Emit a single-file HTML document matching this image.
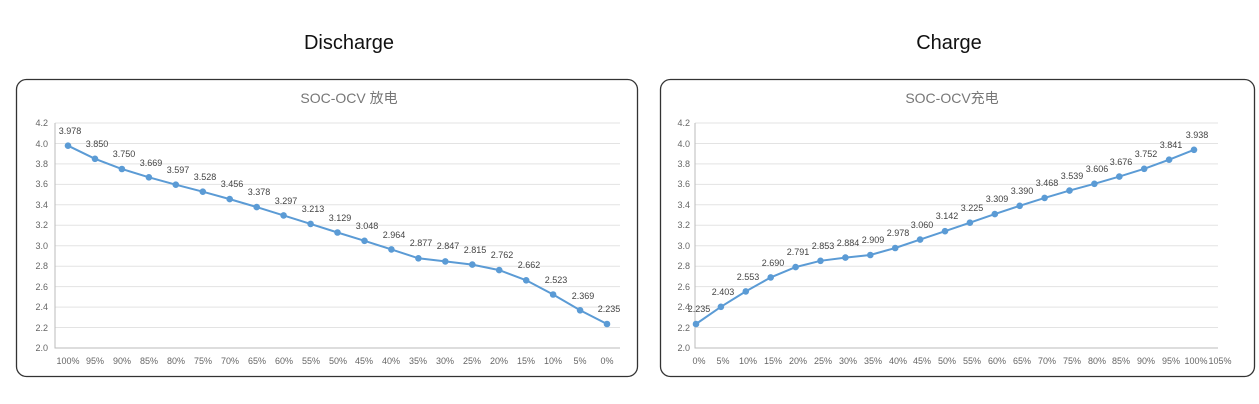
<!DOCTYPE html><html><head><meta charset="utf-8"><style>body{margin:0;background:#fff}svg{display:block}</style></head><body>
<svg width="1259" height="404" xmlns="http://www.w3.org/2000/svg" font-family="Liberation Sans, Noto Sans CJK SC, sans-serif">
<text x="349" y="49" font-size="20" text-anchor="middle" fill="#111">Discharge</text>
<text x="949" y="49" font-size="20" text-anchor="middle" fill="#111">Charge</text>
<rect x="16.5" y="79.5" width="621" height="297" rx="10" fill="#fff" stroke="#333" stroke-width="1.3"/>
<rect x="660.5" y="79.5" width="594" height="297" rx="10" fill="#fff" stroke="#333" stroke-width="1.3"/>
<text x="349" y="103" font-size="14" text-anchor="middle" fill="#777">SOC-OCV 放电</text>
<text x="952" y="103" font-size="14" text-anchor="middle" fill="#777">SOC-OCV充电</text>
<g stroke="#e3e3e3" stroke-width="1" fill="none">
<path d="M55 123H620M55 143.5H620M55 163.9H620M55 184.4H620M55 204.8H620M55 225.3H620M55 245.7H620M55 266.2H620M55 286.6H620M55 307.1H620M55 327.5H620"/>
<path d="M695 123H1218M695 143.5H1218M695 163.9H1218M695 184.4H1218M695 204.8H1218M695 225.3H1218M695 245.7H1218M695 266.2H1218M695 286.6H1218M695 307.1H1218M695 327.5H1218"/>
</g>
<g stroke="#bbb" fill="none"><path d="M55 123V348H620"/><path d="M695 123V348H1218"/></g>
<g font-size="9" fill="#666" text-anchor="end">
<text x="48" y="126">4.2</text><text x="48" y="147">4.0</text><text x="48" y="167">3.8</text><text x="48" y="187">3.6</text><text x="48" y="208">3.4</text><text x="48" y="228">3.2</text><text x="48" y="249">3.0</text><text x="48" y="269">2.8</text><text x="48" y="290">2.6</text><text x="48" y="310">2.4</text><text x="48" y="331">2.2</text><text x="48" y="351">2.0</text>
<text x="690" y="126">4.2</text><text x="690" y="147">4.0</text><text x="690" y="167">3.8</text><text x="690" y="187">3.6</text><text x="690" y="208">3.4</text><text x="690" y="228">3.2</text><text x="690" y="249">3.0</text><text x="690" y="269">2.8</text><text x="690" y="290">2.6</text><text x="690" y="310">2.4</text><text x="690" y="331">2.2</text><text x="690" y="351">2.0</text>
</g>
<g font-size="9" fill="#666" text-anchor="middle">
<text x="68" y="364">100%</text><text x="95" y="364">95%</text><text x="122" y="364">90%</text><text x="149" y="364">85%</text><text x="176" y="364">80%</text><text x="203" y="364">75%</text><text x="230" y="364">70%</text><text x="257" y="364">65%</text><text x="284" y="364">60%</text><text x="311" y="364">55%</text><text x="338" y="364">50%</text><text x="364" y="364">45%</text><text x="391" y="364">40%</text><text x="418" y="364">35%</text><text x="445" y="364">30%</text><text x="472" y="364">25%</text><text x="499" y="364">20%</text><text x="526" y="364">15%</text><text x="553" y="364">10%</text><text x="580" y="364">5%</text><text x="607" y="364">0%</text>
<text x="699" y="364">0%</text><text x="723" y="364">5%</text><text x="748" y="364">10%</text><text x="773" y="364">15%</text><text x="798" y="364">20%</text><text x="823" y="364">25%</text><text x="848" y="364">30%</text><text x="873" y="364">35%</text><text x="898" y="364">40%</text><text x="922" y="364">45%</text><text x="947" y="364">50%</text><text x="972" y="364">55%</text><text x="997" y="364">60%</text><text x="1022" y="364">65%</text><text x="1047" y="364">70%</text><text x="1072" y="364">75%</text><text x="1097" y="364">80%</text><text x="1121" y="364">85%</text><text x="1146" y="364">90%</text><text x="1171" y="364">95%</text><text x="1196" y="364">100%</text><text x="1220" y="364">105%</text>
</g>
<g fill="none" stroke="#5b9bd5" stroke-width="2">
<polyline points="68,145.7 95,158.8 121.9,169 148.9,177.3 175.8,184.7 202.8,191.7 229.7,199.1 256.7,207.1 283.6,215.4 310.6,223.9 337.5,232.5 364.5,240.8 391.4,249.4 418.4,258.3 445.3,261.4 472.3,264.6 499.2,270.1 526.2,280.3 553.1,294.5 580.1,310.3 607,324"/>
<polyline points="696,324 720.9,306.8 745.8,291.4 770.7,277.4 795.6,267.1 820.5,260.8 845.4,257.6 870.3,255 895.2,248 920.1,239.6 945,231.2 969.9,222.7 994.8,214.1 1019.7,205.8 1044.6,197.9 1069.5,190.6 1094.4,183.8 1119.3,176.6 1144.2,168.8 1169.1,159.7 1194,149.8"/>
</g>
<g fill="#5b9bd5">
<circle cx="68" cy="145.7" r="3.3"/><circle cx="95" cy="158.8" r="3.3"/><circle cx="121.9" cy="169" r="3.3"/><circle cx="148.9" cy="177.3" r="3.3"/><circle cx="175.8" cy="184.7" r="3.3"/><circle cx="202.8" cy="191.7" r="3.3"/><circle cx="229.7" cy="199.1" r="3.3"/><circle cx="256.7" cy="207.1" r="3.3"/><circle cx="283.6" cy="215.4" r="3.3"/><circle cx="310.6" cy="223.9" r="3.3"/><circle cx="337.5" cy="232.5" r="3.3"/><circle cx="364.5" cy="240.8" r="3.3"/><circle cx="391.4" cy="249.4" r="3.3"/><circle cx="418.4" cy="258.3" r="3.3"/><circle cx="445.3" cy="261.4" r="3.3"/><circle cx="472.3" cy="264.6" r="3.3"/><circle cx="499.2" cy="270.1" r="3.3"/><circle cx="526.2" cy="280.3" r="3.3"/><circle cx="553.1" cy="294.5" r="3.3"/><circle cx="580.1" cy="310.3" r="3.3"/><circle cx="607" cy="324" r="3.3"/>
<circle cx="696" cy="324" r="3.3"/><circle cx="720.9" cy="306.8" r="3.3"/><circle cx="745.8" cy="291.4" r="3.3"/><circle cx="770.7" cy="277.4" r="3.3"/><circle cx="795.6" cy="267.1" r="3.3"/><circle cx="820.5" cy="260.8" r="3.3"/><circle cx="845.4" cy="257.6" r="3.3"/><circle cx="870.3" cy="255" r="3.3"/><circle cx="895.2" cy="248" r="3.3"/><circle cx="920.1" cy="239.6" r="3.3"/><circle cx="945" cy="231.2" r="3.3"/><circle cx="969.9" cy="222.7" r="3.3"/><circle cx="994.8" cy="214.1" r="3.3"/><circle cx="1019.7" cy="205.8" r="3.3"/><circle cx="1044.6" cy="197.9" r="3.3"/><circle cx="1069.5" cy="190.6" r="3.3"/><circle cx="1094.4" cy="183.8" r="3.3"/><circle cx="1119.3" cy="176.6" r="3.3"/><circle cx="1144.2" cy="168.8" r="3.3"/><circle cx="1169.1" cy="159.7" r="3.3"/><circle cx="1194" cy="149.8" r="3.3"/>
</g>
<g font-size="9" fill="#444" text-anchor="middle">
<text x="70" y="134">3.978</text><text x="97" y="147">3.850</text><text x="124" y="157">3.750</text><text x="151" y="166">3.669</text><text x="178" y="173">3.597</text><text x="205" y="180">3.528</text><text x="232" y="187">3.456</text><text x="259" y="195">3.378</text><text x="286" y="204">3.297</text><text x="313" y="212">3.213</text><text x="340" y="221">3.129</text><text x="367" y="229">3.048</text><text x="394" y="238">2.964</text><text x="421" y="246">2.877</text><text x="448" y="249">2.847</text><text x="475" y="253">2.815</text><text x="502" y="258">2.762</text><text x="529" y="268">2.662</text><text x="556" y="283">2.523</text><text x="583" y="299">2.369</text><text x="609" y="312">2.235</text>
<text x="699" y="312">2.235</text><text x="723" y="295">2.403</text><text x="748" y="280">2.553</text><text x="773" y="266">2.690</text><text x="798" y="255">2.791</text><text x="823" y="249">2.853</text><text x="848" y="246">2.884</text><text x="873" y="243">2.909</text><text x="898" y="236">2.978</text><text x="922" y="228">3.060</text><text x="947" y="219">3.142</text><text x="972" y="211">3.225</text><text x="997" y="202">3.309</text><text x="1022" y="194">3.390</text><text x="1047" y="186">3.468</text><text x="1072" y="179">3.539</text><text x="1097" y="172">3.606</text><text x="1121" y="165">3.676</text><text x="1146" y="157">3.752</text><text x="1171" y="148">3.841</text><text x="1197" y="138">3.938</text>
</g>
</svg>
</body></html>
